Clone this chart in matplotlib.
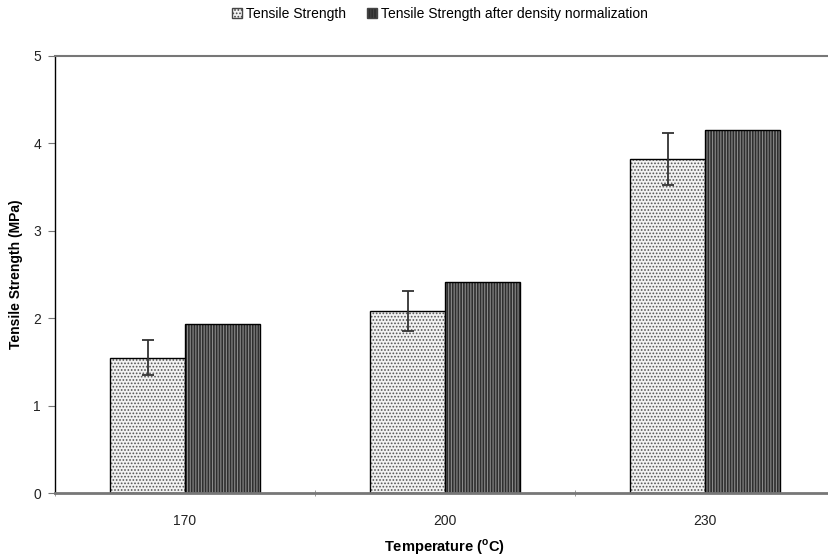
import numpy as np
import matplotlib
matplotlib.use('Agg')
import matplotlib.pyplot as plt
from matplotlib.patches import Patch

plt.rcParams['font.family'] = ['Liberation Sans', 'DejaVu Sans']
plt.rcParams['hatch.linewidth'] = 0.8

temperatures = ['170', '200', '230']
tensile = [1.55, 2.08, 3.82]
tensile_err = [0.20, 0.23, 0.30]
tensile_norm = [1.93, 2.41, 4.15]

fig = plt.figure(figsize=(8.29, 5.56), dpi=100)
ax = fig.add_axes([0.0663, 0.1133, 0.9409, 0.786])

x = np.arange(len(temperatures))
w = 0.287

# light dotted bars
ax.bar(x - w / 2, tensile, w, color='#f2f2f2', hatch='.....', edgecolor='#555555', linewidth=0)
ax.bar(x - w / 2, tensile, w, fill=False, edgecolor='black', linewidth=1)
# dark bars
ax.bar(x + w / 2, tensile_norm, w, color='#2e2e2e', hatch='||||||', edgecolor='#8a8a8a', linewidth=0)
ax.bar(x + w / 2, tensile_norm, w, fill=False, edgecolor='black', linewidth=1)

ax.errorbar(x - w / 2, tensile, yerr=tensile_err, fmt='none', ecolor='#333333',
            elinewidth=1.3, capsize=4, capthick=1.3)

ax.set_xlim(-0.5, 2.5)
ax.set_ylim(0, 5)
ax.set_yticks(range(6))
ax.set_xticks(x)
ax.set_xticklabels(temperatures)
ax.set_xticks([-0.5, 0.5, 1.5, 2.5], minor=True)
ax.tick_params(axis='x', which='major', length=0, labelsize=10, pad=15, labelcolor='#222222')
ax.tick_params(axis='x', which='minor', length=4, color='#888888', direction='inout')
ax.tick_params(axis='y', length=5, color='#777777', labelsize=10, labelcolor='#222222', pad=5)

ax.spines['left'].set_color('black')
ax.spines['left'].set_linewidth(1)
ax.spines['bottom'].set_color('#777777')
ax.spines['bottom'].set_linewidth(2)
ax.spines['top'].set_color('#777777')
ax.spines['top'].set_linewidth(1.5)
ax.spines['right'].set_visible(False)

ax.set_ylabel('Tensile Strength (MPa)', fontsize=10, fontweight='bold', labelpad=7)
ax.set_xlabel('Temperature ($^{\\mathregular{o}}$C)', fontsize=10.5, fontweight='bold', labelpad=7)

handles = [
    Patch(facecolor='#f2f2f2', hatch='.....', edgecolor='#444444', label='Tensile Strength'),
    Patch(facecolor='#2e2e2e', hatch='||||||', edgecolor='#444444',
          label='Tensile Strength after density normalization'),
]
fig.legend(handles=handles, loc='center', bbox_to_anchor=(0.531, 0.975), ncol=2, frameon=False,
           fontsize=10, handlelength=0.7, handleheight=0.7, handletextpad=0.3, columnspacing=1.5)

fig.savefig('out.png', dpi=100, facecolor='white')
